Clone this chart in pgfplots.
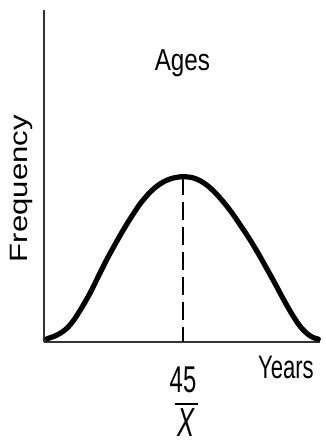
\documentclass[border=0pt]{standalone}
\usepackage{fontspec}
\setmainfont{Liberation Sans}
\usepackage{pgfplots}
\pgfplotsset{compat=1.18}
\usepackage{graphicx}
\begin{document}
\begin{tikzpicture}
\begin{axis}[
  name=ax,
  scale only axis,
  width=276bp, height=332bp,
  xmin=0, xmax=89.35, ymin=0, ymax=100,
  axis lines=left,
  axis line style={-, line width=1.4bp, black!80},
  xtick=\empty, ytick=\empty,
  clip=false,
]
\addplot[black, line width=5.2bp, smooth, line cap=round] coordinates {
(1.0,1.0) (3,1.6) (5.2,2.6) (7.5,4.2) (9.5,6.4) (12,10.0) (14.9,14.7)
(17.5,19.6) (20.3,24.8) (23,29.4) (25.7,33.8) (28.5,38.0) (31.1,41.6)
(34,44.8) (36.5,46.9) (39,48.4) (41.9,49.4) (45,49.8)
(48,49.5) (50.5,48.6) (53.2,46.9) (56,44.4) (58.6,41.6) (61.3,38.3)
(64.0,34.6) (66.7,30.8) (69.4,26.6) (72,22.3) (74.8,17.6) (77.5,12.9)
(80.2,8.5) (83,4.6) (85.6,2.2) (87.5,1.2) (88.8,0.9)
};
\addplot[black, line width=1.8bp, dash pattern=on 18bp off 7bp] coordinates {(45,49.8) (45,0)};
\node[anchor=base, inner sep=0pt] at (axis cs:44.8,81.9)
  {\scalebox{0.8}[1]{\fontsize{30.3bp}{36bp}\selectfont Ages}};
\node[anchor=base, inner sep=0pt] at (axis cs:78.3,-11.1)
  {\scalebox{0.68}[1]{\fontsize{32.5bp}{38bp}\selectfont Years}};
\node[anchor=base, inner sep=0pt] at (axis cs:45,-15.1)
  {\scalebox{0.64}[1]{\fontsize{37.3bp}{44bp}\selectfont 45}};
\node[anchor=base, inner sep=0pt] at (axis cs:46.1,-28.6)
  {\scalebox{0.63}[1]{\fontsize{40.5bp}{48bp}\selectfont\itshape X}};
\draw[line width=1.5bp, black] (axis cs:42.4,-18.7) -- (axis cs:49.9,-18.7);
\node[anchor=base, inner sep=0pt, rotate=90] at (axis cs:-5.5,46.2)
  {\scalebox{1.24}[1]{\fontsize{25.1bp}{30bp}\selectfont Frequency}};
\end{axis}
\path (ax.south west) ++(-44bp,-106bp) rectangle ++(326bp,448bp);
\end{tikzpicture}
\end{document}
